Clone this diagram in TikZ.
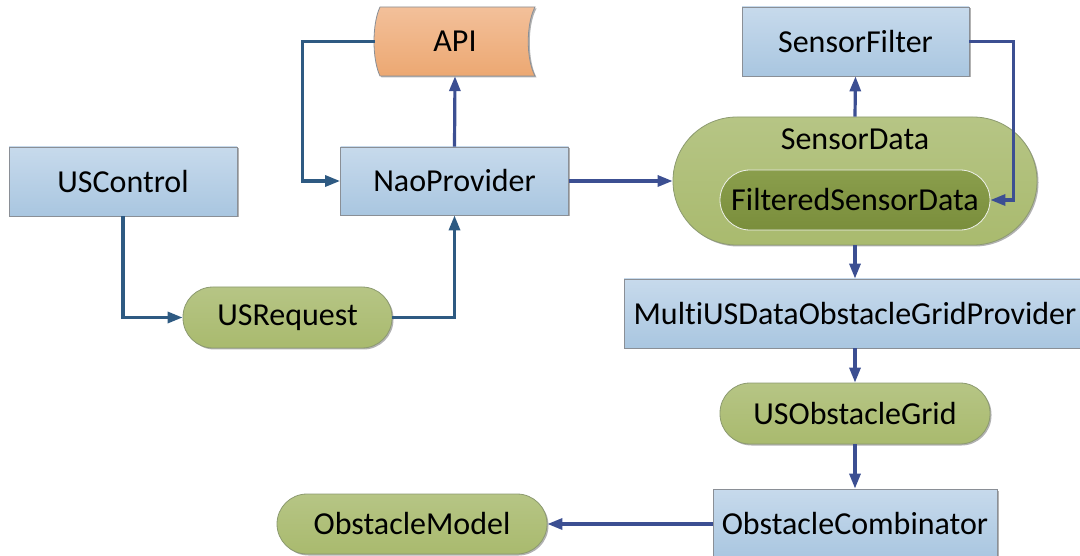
\documentclass[tikz,border=0pt]{standalone}
\usepackage{fontspec}
\setmainfont{Carlito}[Ligatures={NoCommon,NoContextual}]
\usetikzlibrary{arrows.meta,shadows}
\definecolor{boxtop}{HTML}{C7DAEC}
\definecolor{boxbot}{HTML}{A9C6E0}
\definecolor{boxline}{HTML}{8A8F96}
\definecolor{grntop}{HTML}{B6C585}
\definecolor{grnbot}{HTML}{A9BA6E}
\definecolor{grnline}{HTML}{8C9A70}
\definecolor{darktop}{HTML}{8A9E4C}
\definecolor{darkbot}{HTML}{7A8E3C}
\definecolor{orgtop}{HTML}{F3C09A}
\definecolor{orgbot}{HTML}{ECA872}
\definecolor{steel}{HTML}{2E5A82}
\definecolor{indigo}{HTML}{3C4F92}
\tikzset{
  shade/.style={drop shadow={shadow xshift=1.5pt,shadow yshift=-1.5pt,opacity=0.3,fill=black}},
  module/.style={rectangle, draw=boxline, line width=0.8pt, top color=boxtop, bottom color=boxbot,
    inner sep=0pt, shade},
  datum/.style={rectangle, draw=grnline, line width=0.8pt, top color=grntop, bottom color=grnbot,
    inner sep=0pt, minimum height=61pt, rounded corners=30pt, shade},
  inner datum/.style={rectangle, draw=white!85!grnline, line width=0.8pt, top color=darktop, bottom color=darkbot,
    inner sep=0pt, minimum height=60pt, rounded corners=29.9pt},
  flowA/.style={draw=steel, line width=3.2pt, -{Triangle[length=15pt,width=11pt]}},
  flowB/.style={draw=indigo, line width=3.2pt, -{Triangle[length=15pt,width=11pt]}},
}
\begin{document}
\begin{tikzpicture}[x=1pt,y=-1pt,font=\fontsize{32}{38}\selectfont]
\useasboundingbox (0,0) rectangle (1080,556);

% providers and modules
\node[module, minimum width=228pt, minimum height=69pt] (usc) at (123,181.5) {USControl};
\node[module, minimum width=228pt, minimum height=68pt] (nao) at (454.5,181) {NaoProvider};
\node[module, minimum width=227pt, minimum height=69pt] (sf) at (855.5,41.5) {SensorFilter};
\node[module, minimum width=462pt, minimum height=69pt] (multi) at (855,313.5) {MultiUSDataObstacleGridProvider};
\node[module, minimum width=284pt, minimum height=70pt] (oc) at (855,524) {ObstacleCombinator};

% external interface (stored-data shape)
\fill[black, opacity=0.3] (381.5,8.5) -- (536.5,8.5) .. controls (527.5,25) and (527.5,60) .. (536.5,77.5)
  -- (381.5,77.5) .. controls (373.5,60) and (373.5,25) .. cycle;
\draw[draw=boxline, line width=0.8pt, top color=orgtop, bottom color=orgbot]
  (380,7) -- (535,7) .. controls (526,24) and (526,59) .. (535,76)
  -- (380,76) .. controls (372,59) and (372,24) .. cycle;
\node[minimum width=160pt, minimum height=69pt, inner sep=0pt] (api) at (455,41.5) {API};

% representations
\node[datum, minimum width=364pt, minimum height=128pt, rounded corners=63.9pt] (sd) at (855,181) {};
\node (sdlabel) at (855,139) {SensorData};
\node[inner datum, minimum width=270pt] (fsd) at (855,200) {FilteredSensorData};
\node[datum, minimum width=209pt] (usr) at (287.5,317.5) {USRequest};
\node[datum, minimum width=270pt] (usog) at (855,413.5) {USObstacleGrid};
\node[datum, minimum width=270pt, minimum height=60pt] (om) at (412,524) {ObstacleModel};

% connections
\draw[flowA] (api.west) -- ++(-72,0) |- (nao.west);
\draw[flowB] (nao.north) -- (api.south);
\draw[flowA] (usc.south) |- (usr.west);
\draw[flowA] (usr.east) -| (nao.south);
\draw[flowB] (nao.east) -- (sd.west);
\draw[flowB] (sd.north) -- (sf.south);
\draw[flowB] (sf.east) -- ++(44,0) |- (fsd.east);
\draw[flowB] (sd.south) -- (multi.north);
\draw[flowB] (multi.south) -- (usog.north);
\draw[flowB] (usog.south) -- (oc.north);
\draw[flowB] (oc.west) -- (om.east);
\end{tikzpicture}
\end{document}
